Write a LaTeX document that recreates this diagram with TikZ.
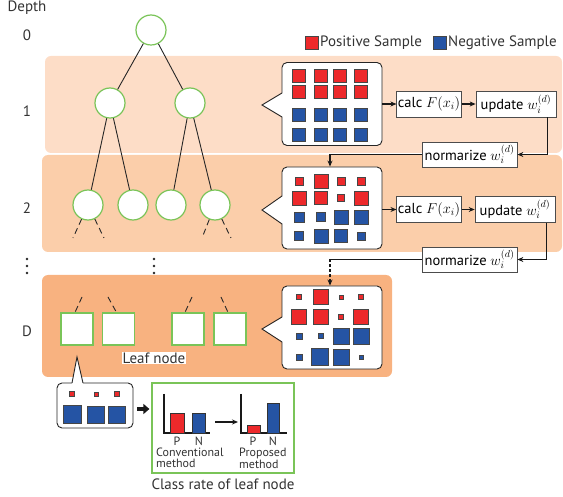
\documentclass[tikz,border=0pt]{standalone}
\usepackage{fontspec}
\setmainfont{PT Sans}
\usetikzlibrary{arrows.meta,calc}
\definecolor{posred}{RGB}{237,41,43}
\definecolor{negblue}{RGB}{37,84,164}
\definecolor{bandA}{RGB}{253,221,199}
\definecolor{bandB}{RGB}{251,206,170}
\definecolor{bandC}{RGB}{248,178,128}
\definecolor{nodegreen}{RGB}{122,196,88}
\definecolor{sqedge}{RGB}{70,70,70}
\newcommand\sqr[4]{\filldraw[fill=#4,draw=sqedge,line width=0.6pt] (#1-#3/2,#2-#3/2) rectangle (#1+#3/2,#2+#3/2);}
\tikzset{
  treenode/.style={circle,draw=nodegreen,fill=white,line width=1.2pt,minimum size=30pt,inner sep=0pt},
  leafnode/.style={rectangle,draw=nodegreen,fill=white,line width=1.2pt,minimum size=32pt,inner sep=0pt},
  edge/.style={line width=0.9pt,black!85},
  stub/.style={line width=0.9pt,black!85,dash pattern=on 6pt off 4pt},
  callout/.style={rectangle,rounded corners=5pt,draw=black!85,fill=white,line width=0.9pt,minimum width=100pt,minimum height=83pt,inner sep=0pt},
  procbox/.style={rectangle,draw=black!70,fill=white,line width=0.7pt,minimum height=26pt,inner sep=1pt,font=\fontsize{14.5}{16}\selectfont},
  conn/.style={line width=1.4pt,black!90,-{Stealth[length=6pt,width=5pt]}},
  plainline/.style={line width=1.4pt,black!90},
  lbl/.style={font=\fontsize{15}{17}\selectfont,text=black!80},
  small/.style={font=\fontsize{12}{10.5}\selectfont,text=black!80},
  axis/.style={line width=1.6pt,black!90},
  bar/.style={draw=black!80,line width=0.6pt}
}
\begin{document}
\begin{tikzpicture}[x=1pt,y=-1pt]
\useasboundingbox (0,0) rectangle (563,497);
% bands
\fill[bandA,rounded corners=6pt] (45,56) rectangle (562,153);
\fill[bandB,rounded corners=6pt] (42,155) rectangle (562,252);
\fill[bandC,rounded corners=6pt] (42,275) rectangle (392,377);
% depth labels
\node[lbl] (dtitle) at (27,8) {Depth};
\node[lbl] (d0) at (27,35) {0};
\node[lbl] (d1) at (27,111) {1};
\node[lbl] (d2) at (27,208) {2};
\node[lbl] (dD) at (27,331) {D};
\foreach \yy in {259,266,273}{\fill[black!85] (27,\yy) circle (1.4pt); \fill[black!85] (154,\yy) circle (1.4pt);}
% tree
\node[treenode] (r) at (151,30) {};
\node[treenode] (a) at (110,103) {};
\node[treenode] (b) at (190,103) {};
\node[treenode] (a1) at (88,205) {};
\node[treenode] (a2) at (133,205) {};
\node[treenode] (b1) at (171,205) {};
\node[treenode] (b2) at (215,205) {};
\draw[edge] (r) -- (a);
\draw[edge] (r) -- (b);
\draw[edge] (a) -- (a1);
\draw[edge] (a) -- (a2);
\draw[edge] (b) -- (b1);
\draw[edge] (b) -- (b2);
\coordinate (s1) at (73,238);
\coordinate (s2) at (104,238);
\coordinate (s3) at (202,238);
\coordinate (s4) at (231,238);
\draw[stub] (a1) -- (s1);
\draw[stub] (a1) -- (s2);
\draw[stub] (b2) -- (s3);
\draw[stub] (b2) -- (s4);
% leaves
\node[leafnode] (l1) at (77,329) {};
\node[leafnode] (l2) at (118.5,329) {};
\node[leafnode] (l3) at (188,329) {};
\node[leafnode] (l4) at (230,329) {};
\coordinate (t1) at (82,297);
\coordinate (t2) at (108,297);
\coordinate (t3) at (192,297);
\coordinate (t4) at (221,297);
\draw[stub] (t1) -- ($(l1.north)+(-2,0)$);
\draw[stub] (t2) -- ($(l2.north)+(-2,0)$);
\draw[stub] (t3) -- ($(l3.north)+(-3,0)$);
\draw[stub] (t4) -- ($(l4.north)+(-2,0)$);
\node[lbl,fill=white,inner sep=1pt] (leaflbl) at (154,358) {Leaf node};
% legend
\sqr{311.5}{43}{13}{posred}
\node[lbl,anchor=west,inner sep=1pt] (lpos) at (319,43) {Positive Sample};
\sqr{439.5}{43}{13}{negblue}
\node[lbl,anchor=west,inner sep=1pt] (lneg) at (447,43) {Negative Sample};
% callout 1
\node[callout] (c1) at (332,104) {};
\fill[white] (283,93) -- (262,105) -- (283,117) -- cycle;
\draw[line width=0.9pt,black!85] (282,93) -- (262,105) -- (282,117);
\foreach \xx in {299,321,340,361}{
  \sqr{\xx}{76}{13}{posred}\sqr{\xx}{92}{13}{posred}
  \sqr{\xx}{115}{13}{negblue}\sqr{\xx}{135}{13}{negblue}}
% callout 2
\node[callout,minimum height=82pt] (c2) at (332,208) {};
\fill[white] (283,196) -- (262,210) -- (283,224) -- cycle;
\draw[line width=0.9pt,black!85] (282,196) -- (262,210) -- (282,224);
\sqr{299}{181}{8}{posred}\sqr{321}{181}{14}{posred}\sqr{341}{181}{8}{posred}\sqr{361}{181}{8}{posred}
\sqr{299}{198}{14}{posred}\sqr{321}{198}{13}{posred}\sqr{341}{198}{7}{posred}\sqr{361}{198}{14}{posred}
\sqr{299}{217}{10}{negblue}\sqr{321}{217}{9}{negblue}\sqr{341}{217}{14}{negblue}\sqr{361}{217}{14}{negblue}
\sqr{299}{236}{9}{negblue}\sqr{321}{236}{14}{negblue}\sqr{341}{236}{13}{negblue}\sqr{361}{236}{8}{negblue}
% callout 3
\node[callout] (c3) at (332,327.5) {};
\fill[white] (283,317) -- (262,329) -- (283,342) -- cycle;
\draw[line width=0.9pt,black!85] (282,317) -- (262,329) -- (282,342);
\sqr{299}{297}{5}{posred}\sqr{321}{297}{15}{posred}\sqr{341}{297}{4}{posred}\sqr{361}{297}{5}{posred}
\sqr{299}{317}{15}{posred}\sqr{321}{317}{15}{posred}\sqr{341}{317}{5}{posred}\sqr{361}{317}{15}{posred}
\sqr{299}{336}{6}{negblue}\sqr{321}{336}{5}{negblue}\sqr{341}{336}{16}{negblue}\sqr{361}{336}{16}{negblue}
\sqr{299}{357}{6}{negblue}\sqr{320}{357}{17}{negblue}\sqr{341}{357}{16}{negblue}\sqr{361}{357}{4}{negblue}
% process boxes row 1
\node[procbox,minimum width=64pt] (calc1) at (429,104) {calc $F(x_i)$};
\node[procbox,minimum width=80pt] (upd1) at (516,104) {update $w_i^{(d)}$};
\node[procbox,minimum width=95pt,minimum height=25pt] (norm1) at (469.5,154.5) {normarize $w_i^{(d)}$};
\draw[conn] (c1.east) -- (calc1.west);
\draw[conn] (calc1.east) -- (upd1.west);
\draw[conn] ($(upd1.south east)+(-9,0)$) |- (norm1.east);
\draw[conn] (norm1.west) -| ($(c2.north)+(-2,0)$);
% process boxes row 2
\node[procbox,minimum width=64pt] (calc2) at (429,209.5) {calc $F(x_i)$};
\node[procbox,minimum width=80pt] (upd2) at (515,209.5) {update $w_i^{(d)}$};
\node[procbox,minimum width=95pt,minimum height=25pt] (norm2) at (469.5,259.5) {normarize $w_i^{(d)}$};
\draw[conn] (c2.east |- calc2) -- (calc2.west);
\draw[conn] (calc2.east) -- (upd2.west);
\draw[conn] ($(upd2.south east)+(-9,0)$) |- (norm2.east);
\coordinate (turn) at ($(c3.north |- norm2.west)+(-2,0)$);
\draw[plainline] (norm2.west) -- (turn);
\draw[conn,dash pattern=on 3pt off 2pt] (turn) -- ($(c3.north)+(-2,0)$);
% bottom callout
\node[callout,minimum width=76pt,minimum height=45pt] (c4) at (95,405.5) {};
\fill[white] (72,384) -- (77,357) -- (83,384) -- cycle;
\draw[line width=0.9pt,black!85] (72,383) -- (77,357) -- (83,383);
\sqr{72}{394}{5}{posred}\sqr{96}{394}{4}{posred}\sqr{117}{394}{5}{posred}
\sqr{72.5}{414.5}{18}{negblue}\sqr{96}{414.5}{17}{negblue}\sqr{117}{414.5}{17}{negblue}
% class rate box
\node[rectangle,draw=nodegreen,line width=1.2pt,minimum width=142pt,minimum height=90pt,inner sep=0pt] (crate) at (223,428) {};
\draw[line width=4pt,black!90,-{Triangle[length=6pt,width=10pt]}] ($(c4.east)+(4,3.5)$) -- ($(crate.west |- c4.east)+(-2,3.5)$);
\node[lbl] (cap) at (223,484) {Class rate of leaf node};
% chart 1
\draw[axis] (164,394) -- (164,433) -- (210,433);
\filldraw[bar,fill=posred] (170,413) rectangle (184,433);
\filldraw[bar,fill=negblue] (192,413) rectangle (205,433);
\node[small,inner sep=0pt] (p1) at (177,441) {P};
\node[small,inner sep=0pt] (n1) at (199,441) {N};
\node[small,anchor=north west,align=left,inner sep=0pt] (conv) at (156,448) {Conventional\\method};
\draw[line width=1.2pt,black!90,-{Stealth[length=6pt,width=5pt]}] (215,422) -- (238,422);
% chart 2
\draw[axis] (241,394) -- (241,433) -- (287,433);
\filldraw[bar,fill=posred] (247,425) rectangle (260,433);
\filldraw[bar,fill=negblue] (267,403) rectangle (279,433);
\node[small,inner sep=0pt] (p2) at (253,441) {P};
\node[small,inner sep=0pt] (n2) at (273,441) {N};
\node[small,anchor=north west,align=left,inner sep=0pt] (prop) at (239,448) {Proposed\\method};
\end{tikzpicture}
\end{document}
